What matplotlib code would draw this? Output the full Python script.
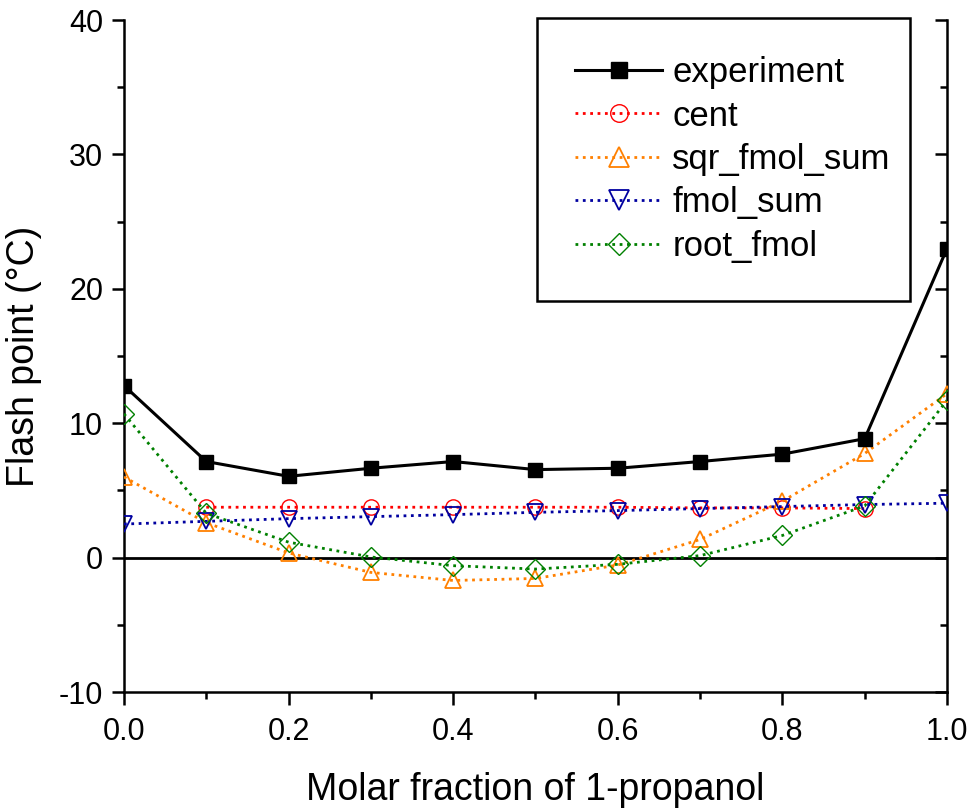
import numpy as np
import matplotlib.pyplot as plt
from matplotlib.ticker import MultipleLocator

plt.rcParams['font.family'] = ['Liberation Sans', 'DejaVu Sans']
plt.rcParams['axes.unicode_minus'] = False

# molar fraction of 1-propanol
x = [0.0, 0.1, 0.2, 0.3, 0.4, 0.5, 0.6, 0.7, 0.8, 0.9, 1.0]

experiment = [12.8, 7.15, 6.05, 6.65, 7.15, 6.55, 6.65, 7.15, 7.7, 8.85, 23.0]
cent_x = [0.1, 0.2, 0.3, 0.4, 0.5, 0.6, 0.7, 0.8, 0.9]
cent = [3.75, 3.75, 3.75, 3.75, 3.75, 3.75, 3.7, 3.7, 3.65]
sqr_fmol_sum = [6.0, 2.6, 0.35, -1.1, -1.7, -1.55, -0.55, 1.35, 4.2, 7.75, 12.2]
fmol_sum = [2.5, 2.7, 2.9, 3.05, 3.2, 3.37, 3.5, 3.65, 3.8, 3.95, 4.05]
root_fmol = [10.7, 3.3, 1.15, 0.05, -0.6, -0.85, -0.5, 0.15, 1.65, 3.85, 11.7]

fig = plt.figure(figsize=(9.7, 8.11), dpi=100)
ax = fig.add_axes([0.1278, 0.1467, 0.8485, 0.8286])

ax.axhline(0, color='black', lw=2, zorder=1)

ax.plot(x, experiment, '-s', color='black', lw=2.2, ms=9.5,
        label='experiment', zorder=5)
ax.plot(cent_x, cent, ':o', color='#FF0000', lw=2, ms=11, mfc='none',
        mew=1, label='cent', zorder=3)
ax.plot(x, sqr_fmol_sum, ':^', color='#FF8000', lw=2, ms=12, mfc='none',
        mew=1.3, label='sqr_fmol_sum', zorder=3)
ax.plot(x, fmol_sum, ':v', color='#0000A0', lw=2, ms=12, mfc='none',
        mew=1.3, label='fmol_sum', zorder=3)
ax.plot(x, root_fmol, ':D', color='#008000', lw=2, ms=10, mfc='none',
        mew=1, label='root_fmol', zorder=4)

ax.set_xlim(0, 1)
ax.set_ylim(-10, 40)
ax.xaxis.set_major_locator(MultipleLocator(0.2))
ax.xaxis.set_minor_locator(MultipleLocator(0.1))
ax.yaxis.set_major_locator(MultipleLocator(10))
ax.yaxis.set_minor_locator(MultipleLocator(5))
ax.xaxis.set_major_formatter(plt.FormatStrFormatter('%.1f'))

ax.spines['top'].set_visible(False)
ax.spines['right'].set_visible(False)
for s in ['left', 'bottom']:
    ax.spines[s].set_linewidth(1.8)

ax.tick_params(axis='both', which='major', labelsize=22, length=9, width=1.8,
               direction='out')
ax.tick_params(axis='y', which='major', pad=6)
ax.tick_params(axis='x', which='major', pad=9)
ax.tick_params(axis='both', which='minor', length=5, width=1.8, direction='out')
ax.tick_params(top=False, right=False, which='both')

# right axis: same scale, ticks pointing inward, no labels
rax = ax.secondary_yaxis('right')
rax.spines['right'].set_linewidth(1.8)
rax.yaxis.set_major_locator(MultipleLocator(10))
rax.yaxis.set_minor_locator(MultipleLocator(5))
rax.tick_params(which='major', direction='in', length=9, width=1.8,
                labelright=False)
rax.tick_params(which='minor', direction='in', length=5, width=1.8)

ax.set_xlabel('Molar fraction of 1-propanol', fontsize=27, labelpad=18)
ax.set_ylabel('Flash point (°C)', fontsize=27, labelpad=12)

leg = ax.legend(loc='upper left',
                bbox_to_anchor=(537 / 970, 1 - 300 / 811, 373 / 970, 282 / 811),
                bbox_transform=fig.transFigure, mode='expand', fontsize=25,
                fancybox=False, edgecolor='black', framealpha=1,
                borderpad=1.1, labelspacing=0.3, handlelength=2.5,
                handletextpad=0.3, borderaxespad=0, markerscale=1.15)
leg.get_frame().set_linewidth(1.8)
leg.set_zorder(10)

fig.savefig('out.png', dpi=100)
